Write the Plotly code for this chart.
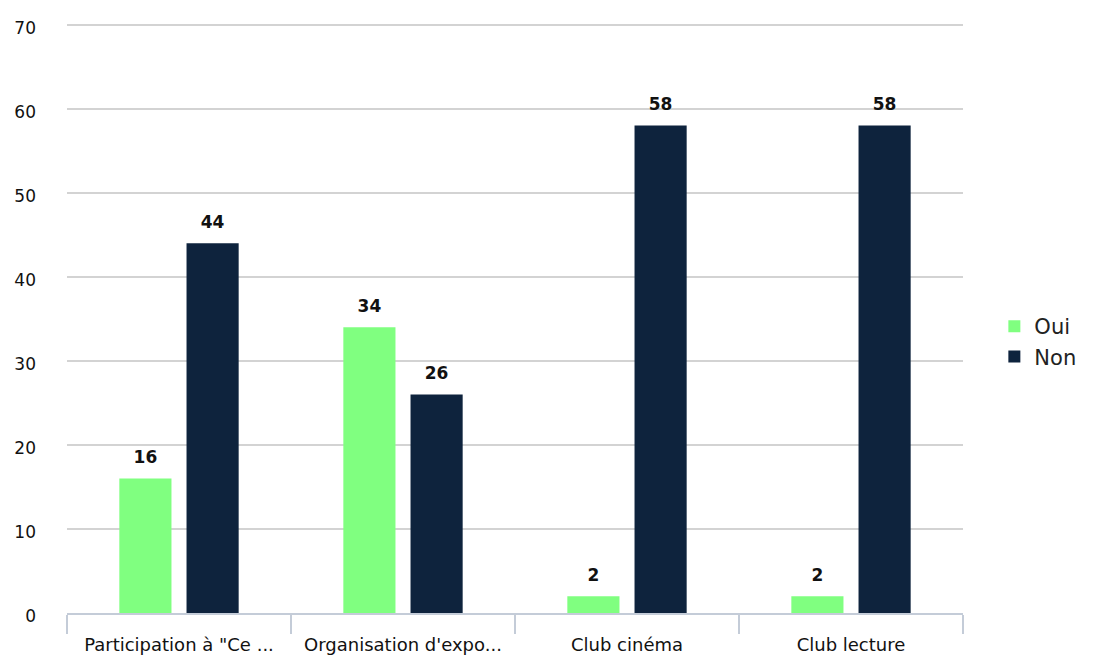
import plotly.graph_objects as go

categories = ['Participation à "Ce ...', "Organisation d'expo...", "Club cinéma", "Club lecture"]
oui = [16, 34, 2, 2]
non = [44, 26, 58, 58]
y_ticks = [0, 10, 20, 30, 40, 50, 60, 70]

font_family = "DejaVu Sans, Verdana, sans-serif"
GAP = 0.40

fig = go.Figure()
fig.add_trace(go.Bar(
    name="Oui", x=categories, y=oui, offsetgroup="oui",
    marker=dict(color="#80FF80", line=dict(width=0)),
))
fig.add_trace(go.Bar(
    name="Non", x=categories, y=non, offsetgroup="non",
    marker=dict(color="#0E233D", line=dict(width=0)),
))
# value labels placed above bars
for name, vals in (("oui", oui), ("non", non)):
    fig.add_trace(go.Scatter(
        x=categories, y=vals, offsetgroup=name, mode="markers+text",
        text=[str(v) for v in vals], textposition="top center",
        marker=dict(size=16, opacity=0),
        textfont=dict(family=font_family, size=17, color="#111111", weight="bold"),
        showlegend=False, hoverinfo="skip", cliponaxis=False,
    ))

fig.update_layout(
    width=1093, height=655,
    margin=dict(l=59, r=138, t=15, b=50, autoexpand=False),
    paper_bgcolor="white", plot_bgcolor="white",
    barmode="group", bargap=GAP, bargroupgap=0.224,
    scattermode="group", scattergap=GAP,
    font=dict(family=font_family, size=16, color="#111111"),
    legend=dict(x=1.035, y=0.46, yanchor="middle", xanchor="left",
                font=dict(size=21, color="#222222"), tracegroupgap=0),
    showlegend=True,
)
fig.update_xaxes(
    type="category", tickson="boundaries", ticks="outside", ticklen=19,
    tickcolor="#C4CCD8", tickwidth=2, showline=True, linecolor="#C4CCD8",
    linewidth=2, showgrid=False, automargin=False, ticklabelstandoff=14,
    tickfont=dict(size=18, color="#111111"),
)
fig.update_yaxes(
    range=[0, 70.2], tickvals=y_ticks, showgrid=True, gridcolor="#D3D3D3",
    gridwidth=1.5, zeroline=False, showline=False, ticks="", automargin=False,
    ticklabelstandoff=30, ticklabelshift=3, tickfont=dict(size=17, color="#111111"),
)

fig.write_html("out.html")
